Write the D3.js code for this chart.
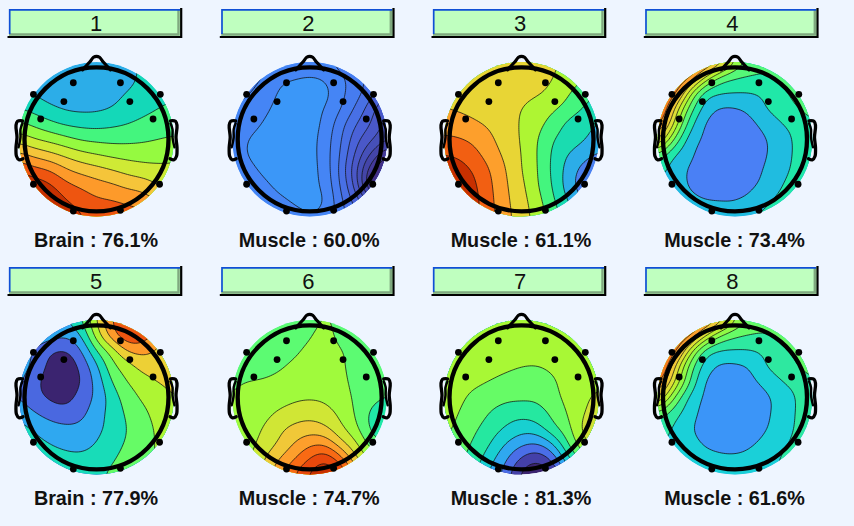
<!DOCTYPE html>
<html><head><meta charset="utf-8">
<style>html,body{margin:0;padding:0;background:#eef5ff}svg{display:block}</style>
<script src="https://cdn.jsdelivr.net/npm/d3@7/dist/d3.min.js"></script>
</head><body><svg id="c" width="854" height="526"></svg>
<script>
const components = ["1","2","3","4","5","6","7","8"];
const captions = ["Brain : 76.1%","Muscle : 60.0%","Muscle : 61.1%","Muscle : 73.4%","Brain : 77.9%","Muscle : 74.7%","Muscle : 81.3%","Muscle : 61.6%"];
// electrode positions in head units (nose up)
const electrodeX = [-0.32,0.33,-0.45,0.46,-0.87,0.88,-0.77,0.78,-0.87,0.87,-0.32,0.33];
const electrodeY = [-0.78,-0.78,-0.52,-0.52,-0.62,-0.62,-0.28,-0.28,0.62,0.62,0.99,0.98];
// band colours per map, low band first
const bands1 = ["#2cade8","#14d8b8","#44f57e","#95fa40","#cfea35","#f5c53a","#fd9a2a","#ee5510","#c53000"];
const bands2 = ["#3b97f8","#4585f5","#467cf0","#4870e5","#4a62d8","#4a58c8","#4650b8","#4445a8","#443a98","#423085","#3d2670"];
const bands3 = ["#4a80f0","#2cade8","#1adcb0","#44f57e","#aef533","#e8d535","#fd9f2c","#f25f12","#c83000"];
const bands4 = ["#4a80f5","#20bce0","#20e8a8","#55f878","#90fa45","#bbf030","#ddde35","#f0c838","#fb9f2c","#f57a1e","#e8500f"];
const bands5 = ["#3b2470","#4a68e0","#2fa8f0","#18dcb8","#66fb66","#aef533","#edd035","#fd9a2a","#ee5510"];
const bands6 = ["#20e8a8","#5cfb72","#a0fa3c","#d0e635","#f0c838","#fd9f2c","#f86a14","#e8480c","#c83000"];
const bands7 = ["#3b2470","#4440a8","#4a6ee8","#2fa8f0","#18d0d0","#25e8a0","#66fb66","#a8f835","#d0e035"];
const bands8 = ["#3b95f8","#1ad0d8","#2ee8a0","#66fb66","#90fa45","#bbf030","#ddde35","#f0c838","#fb9f2c","#f57a1e","#e8500f"];
// scalp maps: 11 x 11 samples, in contour-level units
const map1 = [
[.2,.1,0,0,0,0,.1,.85,1.1,1.3,1.4],
[.5,.4,.3,.3,.2,.2,.4,.7,1.2,1.4,1.6],
[1,.9,.6,.55,.5,.5,.7,1.05,1.35,1.6,1.85],
[2,1.6,1.15,.85,.75,.8,1,1.4,1.7,2,2.2],
[3.2,2.75,2.25,1.85,1.7,1.65,1.8,1.98,2.25,2.47,2.64],
[4.6,4.05,3.7,3.3,2.9,2.76,2.7,2.75,2.85,3,3.1],
[6.3,5.75,5.3,4.8,4.35,4.05,3.8,3.65,3.6,3.63,3.8],
[7.9,7.4,7.03,6.2,5.7,5.39,5.05,4.7,4.45,4.3,4.2],
[9,8.7,8.2,7.35,6.9,6.46,6.2,5.8,5.6,5,4.8],
[9.5,9.4,9,8.1,7.6,7.2,7.1,6.85,6.6,6,6],
[10,10,9.6,8.8,8.1,7.7,7.6,7.5,7.3,7,7]];
const map2 = [
[3,2.8,2.5,2,1.7,1.5,1.7,2.5,3,3.5,4],
[2.5,2.3,2,1.3,1.1,1,1.15,1.8,2.6,3.4,4.2],
[2.3,2.1,1.7,.9,.6,.5,.7,1.75,2.6,3.7,5],
[2,1.7,1.3,.7,.5,.5,1.05,1.95,3.2,4.7,6],
[1.8,1.5,.95,.5,.4,.5,1.3,2.6,4,5.1,6.5],
[1.7,1,.6,.4,.4,.6,1.5,2.9,4.7,5.9,7],
[1.7,.95,.6,.4,.4,.6,1.55,3.1,5.3,7.3,9],
[1.9,1.4,.8,.5,.4,.6,1.45,3.3,5.9,8.8,10.5],
[2,1.8,1.3,.75,.5,.6,1.3,3.1,5.5,9.5,11],
[2.1,2,1.7,1.3,.9,.6,1,2.8,4.4,6.5,8],
[2.2,2.1,1.9,1.7,1.4,1.2,1.4,2.5,4,5,6]];
const map3 = [
[5.4,5.3,5.3,5.2,5.2,5.2,5.2,5.1,4.8,4.3,3.8],
[5.7,5.5,5.4,5.3,5.3,5.3,5.3,5.05,4.6,4.1,3.6],
[5.8,5.6,5.45,5.35,5.3,5.25,5.15,4.75,4.1,3.4,2.9],
[6,5.85,5.6,5.35,5.2,5.03,4.6,4.2,3.65,2.95,2.6],
[6.5,6.47,6.17,5.8,5.3,4.95,4.35,3.6,2.75,2.3,1.9],
[7.2,7.05,6.78,6.2,5.45,4.95,4.05,3.05,2.55,2.1,1.6],
[8,7.8,7.25,6.55,5.75,5,4,2.85,1.95,1.35,.8],
[8.8,8.5,7.85,6.97,6,5.03,4.05,2.8,1.6,.6,.2],
[9,8.8,8.15,7.15,6.1,5.25,4.1,2.95,1.5,.4,.1],
[9,8.8,8.3,7.25,6.2,5.4,4.4,3.2,2,1,.5],
[9,8.8,8.3,7.3,6.3,5.5,4.6,3.5,2.5,1.5,1]];
const map4 = [
[12,12,11.5,10,8,5,3.6,3,3,3.3,3.5],
[12,11,9.5,6.2,3.8,3.1,2.95,3,3.3,3.5,3.6],
[11,10,5.8,2.7,2.15,2.05,2,2.2,2.8,3.3,3.6],
[11.5,7.4,3.9,1.7,.95,.95,1.3,2.05,2.5,3,3.4],
[9.5,6.3,2.7,1.03,.5,.4,.75,1.4,1.98,2.4,2.9],
[7.5,4.2,1.65,.9,.3,.3,.5,.95,1.6,2.2,3.1],
[3.8,2.1,1.3,.55,.3,.3,.45,.95,1.6,2.2,2.9],
[2.4,1.65,.9,.6,.35,.35,.6,1.15,1.7,2.3,2.8],
[1.8,1.5,.98,.6,.5,.5,.85,1.3,2,2.5,2.8],
[1.6,1.4,1.3,1.1,1.05,1.05,1.3,1.9,2.3,2.6,2.9],
[1.5,1.4,1.4,1.4,1.4,1.4,2.05,2.2,2.5,2.7,2.9]];
const map5 = [
[2.3,2.3,2.6,3,3.9,6,8,9,9,8.5,7.5],
[2.7,2.6,2.5,2.2,3,5.5,7.6,8.9,8.6,7.5,6.8],
[2.4,1.95,1.15,.95,1.9,4,5.5,7.1,7.3,6.8,6.4],
[2.3,1.9,.7,.3,1.25,2.8,4.7,5.6,6.4,6.5,6.3],
[2.2,1.4,.4,.2,1,2.35,4.05,5.05,5.6,6.05,6.3],
[2,1.4,.85,.6,1.4,2.2,3.5,4.5,5.2,5.55,6],
[2.6,2.05,1.6,1.4,1.7,2.55,3.4,4.2,4.8,5.4,5.8],
[3.4,2.85,2.4,2.2,2.25,2.75,3.35,4.05,4.6,5.2,5.6],
[3.9,3.4,3,2.7,2.65,3.05,3.6,4.15,4.6,5.15,5.5],
[4,3.8,3.6,3.4,3.3,3.5,3.9,4.4,4.8,5.1,5.4],
[4.2,4,3.9,3.7,3.6,3.8,4.2,4.6,5,5.2,5.4]];
const map6 = [
[1.4,1.4,1.4,1.4,1.5,1.7,2.05,1.8,1.6,1.5,1.4],
[1.4,1.4,1.4,1.45,1.6,1.9,2.3,1.7,1.6,1.5,1.4],
[1.4,1.45,1.5,1.6,1.85,2.2,2.35,2.05,1.7,1.5,1.4],
[1.5,1.55,1.65,1.9,2.15,2.3,2.4,2.1,1.75,1.55,1.4],
[1.9,2.05,2.1,2.2,2.3,2.4,2.4,2.2,1.75,1.5,1.4],
[2,2.15,2.25,2.5,2.8,2.9,2.8,2.4,1.8,1.35,.95],
[2.05,2.2,2.6,3.15,3.45,3.6,3.35,2.75,1.85,.75,.3],
[2.1,2.4,3.05,3.75,4.25,4.5,4.2,3.2,2.2,.7,.3],
[2,2.6,3.35,4.1,5.05,5.8,5.85,4.4,3.15,1.5,1],
[2.2,2.8,3.9,5,6,7.1,7.9,6.5,4.2,2.7,2],
[2.3,3,4.2,5.7,7,8.2,8.9,8,6,3.5,2.5]];
const map7 = [
[7.6,7.8,8,7.6,7.4,7.4,7.4,7.4,7.4,7.4,7.4],
[7.7,8,8.1,7.7,7.5,7.4,7.4,7.4,7.4,7.4,7.4],
[7.8,8.1,7.6,7.5,7.4,7.4,7.4,7.4,7.45,7.5,7.5],
[7.6,7.7,7.5,7.4,7.2,7.02,6.98,7.2,7.4,7.5,7.6],
[7.5,7.4,7.2,6.95,6.7,6.6,6.55,6.85,7.4,7.6,7.7],
[7.5,7.2,6.75,6.5,6.25,6.2,6.2,6.7,7.3,7.75,8.3],
[7.6,6.95,6.55,5.95,5.5,5.35,5.55,6.25,7.1,7.95,8.6],
[7.3,6.7,6.15,5.5,4.9,4.4,4.6,5.7,6.7,8.3,8.8],
[7,6.4,5.85,5,3.95,3.2,2.95,3.95,6,7.8,8.3],
[6.7,6.2,5.5,4.3,3.1,1.75,1.1,2.2,4.7,6.5,7.5],
[6.5,5.8,5,3.8,2.5,.7,.2,.8,3.5,6,7]];
const map8 = [
[12,12,11.5,10,8,5.2,3.7,3,3,3.2,3.4],
[12,11,9.6,6.5,4.1,3.2,2.98,3.05,3.3,3.5,3.6],
[11,10,6,2.7,2,1.95,1.95,2.2,2.8,3.2,3.5],
[11.5,7.6,3.9,1.7,.85,.8,1.1,2.05,2.5,3,3.4],
[9.5,6.5,3.3,1.03,.5,.4,.75,1.35,1.98,2.4,2.9],
[7.5,4.3,1.9,.9,.4,.3,.45,.8,1.45,2.05,2.9],
[3.8,2.5,1.55,.7,.35,.3,.4,.85,1.4,2.1,2.8],
[2.6,1.95,1.2,.6,.4,.35,.5,.95,1.5,2.15,2.7],
[2.2,1.7,1.4,.95,.75,.65,.9,1.3,1.8,2.3,2.7],
[1.9,1.7,1.5,1.3,1.2,1.2,1.3,1.6,2.1,2.5,2.8],
[2.1,1.8,1.6,1.5,1.4,1.4,1.5,1.7,2.1,2.6,2.9]];
const maps = [map1,map2,map3,map4,map5,map6,map7,map8];
const bandSets = [bands1,bands2,bands3,bands4,bands5,bands6,bands7,bands8];

// layout
const centerX = [96.5,309.7,521.5,735];
const centerY = [139.3,397.3];
const buttonX = [9,221.3,433,645.3];
const buttonY = [9,267];
const headR = 72, electrodeR = 72.5, rimR = 77.3, gridR = 78, buttonW = 172, buttonH = 27;
const ink = "#000";

// smooth the coarse sample grid for contouring only
function catmull(p0,p1,p2,p3,t){return 0.5*((2*p1)+(-p0+p2)*t+(2*p0-5*p1+4*p2-p3)*t*t+(-p0+3*p1-3*p2+p3)*t*t*t);}
function refine(g,f){
  const n=g.length, m=(n-1)*f+1, out=new Float64Array(m*m);
  const at=(r,c)=>g[Math.max(0,Math.min(n-1,r))][Math.max(0,Math.min(n-1,c))];
  const row=(r,x)=>{const i=Math.min(n-2,Math.floor(x)),t=x-i;return catmull(at(r,i-1),at(r,i),at(r,i+1),at(r,i+2),t);};
  for(let j=0;j<m;j++){const y=j/f,i=Math.min(n-2,Math.floor(y)),t=y-i;
    for(let k=0;k<m;k++){const x=k/f;
      out[j*m+k]=catmull(row(i-1,x),row(i,x),row(i+1,x),row(i+2,x),t);}}
  d3.blur2({data:out,width:m,height:m},2.5);
  return {values:out,size:m};
}

const svg=d3.select("#c");
svg.append("rect").attr("width",854).attr("height",526).attr("fill","#eef5ff");
const defs=svg.append("defs");
const unit=d3.scaleLinear().domain([-1,1]).range([-electrodeR,electrodeR]);
const curve=d3.line().curve(d3.curveCatmullRom.alpha(.5));

components.forEach((name,idx)=>{
  const col=idx%4,row=Math.floor(idx/4),cx=centerX[col],cy=centerY[row];
  const bx=buttonX[col],by=buttonY[row];
  const p=svg.append("g");
  // title button
  p.append("rect").attr("x",bx).attr("y",by).attr("width",buttonW).attr("height",buttonH).attr("fill","#bfffbf");
  p.append("path").attr("d",`M${bx+buttonW-2.5},${by+1}V${by+buttonH-1.5}H${bx}`).attr("fill","none").attr("stroke","#7fa97f").attr("stroke-width",2.4);
  p.append("path").attr("d",`M${bx+.7},${by+buttonH-2}V${by+.8}H${bx+buttonW-1}`).attr("fill","none").attr("stroke","#0f4fd6").attr("stroke-width",1.7);
  p.append("path").attr("d",`M${bx+buttonW+.2},${by-1}V${by+buttonH+1}H${bx-1.5}`).attr("fill","none").attr("stroke",ink).attr("stroke-width",2.2);
  p.append("text").attr("x",bx+buttonW/2+1).attr("y",by+21.5).attr("text-anchor","middle")
    .attr("font-family","'Liberation Sans',Arial,sans-serif").attr("font-size",22).attr("fill","#111").text(name);
  // contour map
  const g=refine(maps[idx],8), colors=bandSets[idx];
  const sx=d3.scaleLinear().domain([.5,g.size-.5]).range([cx-gridR,cx+gridR]);
  const sy=d3.scaleLinear().domain([.5,g.size-.5]).range([cy-gridR,cy+gridR]);
  const proj=d3.geoTransform({point(x,y){this.stream.point(sx(x),sy(y));}});
  const path=d3.geoPath(proj);
  const clipId="clip"+idx;
  defs.append("clipPath").attr("id",clipId).append("circle").attr("cx",cx).attr("cy",cy).attr("r",rimR);
  const mapG=p.append("g").attr("clip-path",`url(#${clipId})`);
  mapG.append("circle").attr("cx",cx).attr("cy",cy).attr("r",rimR).attr("fill",colors[0]);
  const levels=d3.range(1,colors.length);
  const shapes=d3.contours().size([g.size,g.size]).thresholds(levels)(g.values);
  mapG.selectAll("path").data(shapes).join("path").attr("d",path)
    .attr("fill",d=>colors[d.value]).attr("stroke","#111").attr("stroke-width",.75);
  // head outline
  p.append("circle").attr("cx",cx).attr("cy",cy).attr("r",headR).attr("fill","none").attr("stroke",ink).attr("stroke-width",4.3);
  const outline=(pts,w)=>p.append("path").attr("d",curve(pts.map(q=>[cx+q[0],cy+q[1]]))).attr("fill","none")
    .attr("stroke",ink).attr("stroke-width",w).attr("stroke-linecap","round").attr("stroke-linejoin","round");
  outline([[-14,-69.5],[-7,-77],[-3,-82],[0,-83],[3,-82],[7,-77],[14,-69.5]],3.2);
  [-1,1].forEach(s=>{
    outline([[-74,-18.5],[-79,-18],[-80.5,-14],[-79.5,-2],[-80.5,8],[-80,17],[-77.5,20.5],[-73.5,19.5]].map(q=>[q[0]*s,q[1]]),3.3);
    outline([[-74,-16],[-76,-10],[-76,-2],[-78,8]].map(q=>[q[0]*s,q[1]]),2.4);
  });
  // electrodes
  p.selectAll("circle.el").data(electrodeX).join("circle").attr("class","el")
    .attr("cx",(d)=>cx+unit(d)).attr("cy",(d,i)=>cy+unit(electrodeY[i])).attr("r",3.4).attr("fill",ink);
  // caption
  p.append("text").attr("x",cx-.5).attr("y",by+237.5).attr("text-anchor","middle")
    .attr("font-family","'Liberation Sans',Arial,sans-serif").attr("font-weight","bold").attr("font-size",19.8).attr("fill","#111").text(captions[idx]);
});
</script></body></html>
